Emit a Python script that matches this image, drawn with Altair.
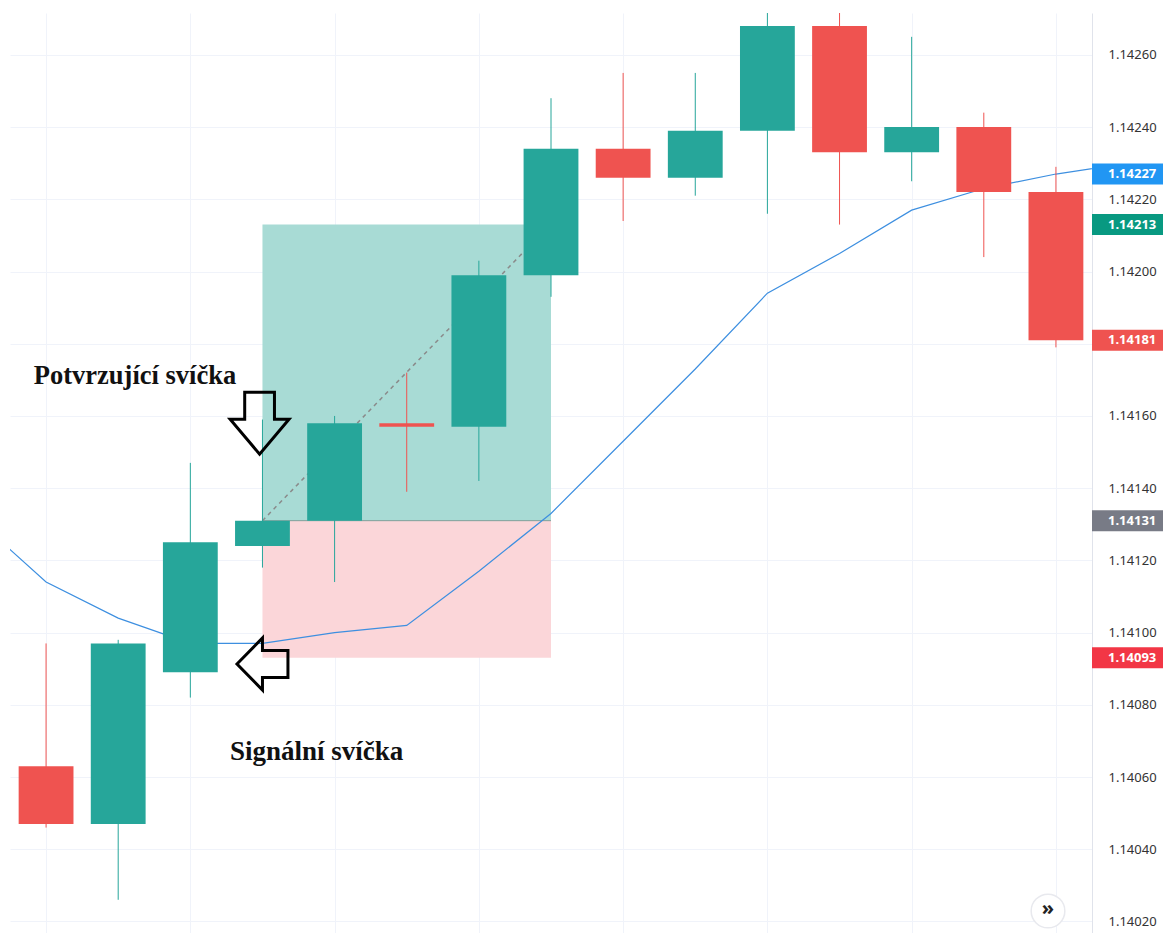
import altair as alt
import pandas as pd

# ---- candle data ----
idx = list(range(15))
opens  = [1.14063, 1.14047, 1.14089, 1.14124, 1.14131, 1.14158, 1.14157, 1.14199,
          1.14234, 1.14226, 1.14239, 1.14268, 1.14233, 1.14240, 1.14222]
highs  = [1.14097, 1.14098, 1.14147, 1.14159, 1.14160, 1.14172, 1.14203, 1.14248,
          1.14255, 1.14255, 1.14272, 1.14280, 1.14265, 1.14244, 1.14229]
lows   = [1.14046, 1.14026, 1.14082, 1.14118, 1.14114, 1.14139, 1.14142, 1.14193,
          1.14214, 1.14221, 1.14216, 1.14213, 1.14225, 1.14204, 1.14179]
closes = [1.14047, 1.14097, 1.14125, 1.14131, 1.14158, 1.14157, 1.14199, 1.14234,
          1.14226, 1.14239, 1.14268, 1.14233, 1.14240, 1.14222, 1.14181]

# ---- moving average ----
ma_idx = list(range(-1, 16))
ma_vals = [1.14132, 1.14114, 1.14104, 1.14097, 1.14097, 1.14100, 1.14102, 1.14117,
           1.14133, 1.14153, 1.14173, 1.14194, 1.14205, 1.14217, 1.14223, 1.14227, 1.14230]

# ---- long position tool ----
pos_start, pos_end = 3, 7
entry_price = 1.14131
target_price = 1.14213
stop_price = 1.14093
trend_x = [3, 6.6]
trend_y = [1.14131, 1.14205]

# ---- price axis ----
ytick_vals = [1.14020, 1.14040, 1.14060, 1.14080, 1.14100, 1.14120, 1.14140,
              1.14160, 1.14180, 1.14200, 1.14220, 1.14240, 1.14260]
xgrid_vals = [0, 2, 4, 6, 8, 10, 12, 14]
tag_prices = [1.14227, 1.14213, 1.14181, 1.14131, 1.14093]
tag_colors = ["#2196F3", "#089981", "#EF5350", "#787B86", "#F23645"]

# ---- annotations ----
ann_text = ["Potvrzující svíčka", "Signální svíčka"]
ann_x = [-0.17, 2.55]
ann_y = [1.141711, 1.140669]
ann_size = [26.5, 27]
arrow_down_at = (2.96, 1.14158)
arrow_left_at = (3.0, 1.140913)

UP, DOWN = "#26a69a", "#ef5350"
W, H = 1082, 920
GRID = "#f0f3fa"
FONT = "Noto Sans"

xscale = alt.Scale(domain=[-0.5, 14.5], nice=False, zero=False)
yscale = alt.Scale(domain=[1.140168, 1.142716], nice=False, zero=False)
xaxis = alt.Axis(values=xgrid_vals, grid=True, gridColor=GRID, labels=False,
                 ticks=False, domain=False, title=None)
yaxis = alt.Axis(orient="right", values=ytick_vals, format=".5f", grid=True,
                 gridColor=GRID, ticks=False, tickSize=0, domain=True,
                 domainColor="#e0e3eb", labelPadding=16, labelFontSize=13,
                 labelColor="#333333", labelFont=FONT, title=None,
                 labelExpr="abs(datum.value - 1.1418) < 0.000001 ? '' : datum.label")


def X(f):
    return alt.X(f, type="quantitative", scale=xscale, axis=xaxis)


def Y(f):
    return alt.Y(f, type="quantitative", scale=yscale, axis=yaxis)


candles = pd.DataFrame({"idx": idx, "open": opens, "high": highs,
                        "low": lows, "close": closes})
ccolor = alt.Color("col:N", scale=None, legend=None)

base_c = alt.Chart(candles).transform_calculate(
    col=f"datum.close >= datum.open ? '{UP}' : '{DOWN}'",
    x0="datum.idx - 0.38",
    x1="datum.idx + 0.38",
)
wicks = base_c.mark_rule(strokeWidth=1, clip=True).encode(
    x=X("idx"), y=Y("low"), y2="high", color=ccolor)
bodies = base_c.mark_rect(clip=True).encode(
    x=X("x0"), x2="x1", y=Y("open"), y2="close", color=ccolor)

boxes_df = pd.DataFrame({
    "x0": [pos_start, pos_start], "x1": [pos_end, pos_end],
    "y0": [entry_price, entry_price], "y1": [target_price, stop_price],
    "col": ["#a8dbd5", "#fbd6d9"]})
boxes = alt.Chart(boxes_df).mark_rect().encode(
    x=X("x0"), x2="x1", y=Y("y0"), y2="y1",
    color=alt.Color("col:N", scale=None, legend=None))
entry_line = alt.Chart(pd.DataFrame({"x0": [pos_start], "x1": [pos_end],
                                     "y": [entry_price]})).mark_rule(
    color="#7f9e9a", strokeWidth=1).encode(x=X("x0"), x2="x1", y=Y("y"))

ma_df = pd.DataFrame({"idx": ma_idx, "ma": ma_vals})
ma_line = alt.Chart(ma_df).mark_line(color="#3d8fe0", strokeWidth=1.2,
                                     clip=True).encode(x=X("idx"), y=Y("ma"))

trend = alt.Chart(pd.DataFrame({"x": trend_x, "y": trend_y})).mark_line(
    color="#8a8a8a", strokeDash=[4, 4], strokeWidth=1.5).encode(
    x=X("x"), y=Y("y"))

down_path = ("M -0.48 -1 L 0.48 -1 L 0.48 -0.13 L 0.95 -0.13 L 0 1 "
             "L -0.95 -0.13 L -0.48 -0.13 Z")
left_path = ("M -0.98 0 L 0 -1 L 0 -0.52 L 0.98 -0.52 L 0.98 0.52 "
             "L 0 0.52 L 0 1 Z")
arrow_down = alt.Chart(pd.DataFrame({"x": [arrow_down_at[0]],
                                     "y": [arrow_down_at[1]]})).mark_point(
    shape=down_path, size=3844, filled=False, stroke="black",
    strokeWidth=3, opacity=1).encode(x=X("x"), y=Y("y"))
arrow_left = alt.Chart(pd.DataFrame({"x": [arrow_left_at[0]],
                                     "y": [arrow_left_at[1]]})).mark_point(
    shape=left_path, size=2704, filled=False, stroke="black",
    strokeWidth=3, opacity=1).encode(x=X("x"), y=Y("y"))

ann = alt.Chart(pd.DataFrame({"t": ann_text, "x": ann_x, "y": ann_y,
                              "s": ann_size})).mark_text(
    align="left", baseline="middle", font="Liberation Serif", fontWeight="bold",
    color="#111111").encode(x=X("x"), y=Y("y"), text="t:N",
                            size=alt.Size("s:Q", scale=None, legend=None))

tags_df = pd.DataFrame({"price": tag_prices, "c": tag_colors})
tag_rect = alt.Chart(tags_df).mark_point(
    shape="M -1 -0.25 L 1 -0.25 L 1 0.25 L -1 0.25 Z", size=7056,
    filled=True, opacity=1).encode(
    x=alt.value(W + 42), y=Y("price"), color=alt.Color("c:N", scale=None))
tag_text = alt.Chart(tags_df).transform_calculate(
    lbl="format(datum.price, '.5f')").mark_text(
    align="left", baseline="middle", color="white", fontSize=13, font=FONT,
    fontWeight="bold").encode(x=alt.value(W + 16), y=Y("price"), text="lbl:N")

btn_df = pd.DataFrame({"t": ["»"]})
btn_circle = alt.Chart(btn_df).mark_point(
    shape="circle", size=1134, filled=True, fill="white", stroke="#e8e9ee",
    strokeWidth=1.5, opacity=1).encode(x=alt.value(1038), y=alt.value(898))
btn_text = alt.Chart(btn_df).mark_text(
    fontSize=20, color="#222222", font=FONT, fontWeight="bold", baseline="middle",
    align="center", dy=-2).encode(x=alt.value(1038), y=alt.value(898), text="t:N")

chart = alt.layer(
    boxes, entry_line, ma_line, trend, wicks, bodies, arrow_down, arrow_left,
    ann, tag_rect, tag_text, btn_circle, btn_text
).properties(
    width=W, height=H,
    autosize=alt.AutoSizeParams(type="none"),
    padding={"left": 2, "top": 5, "right": 71, "bottom": 0},
    background="white",
).configure_view(stroke=None)

chart.save("out.html", embed_options={"renderer": "svg", "actions": False})
